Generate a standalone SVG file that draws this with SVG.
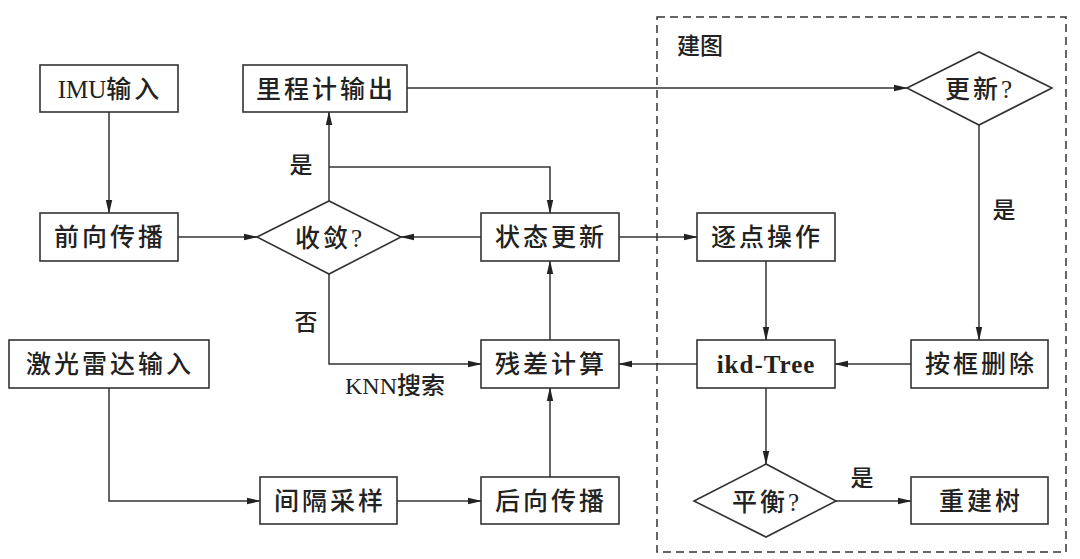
<svg xmlns="http://www.w3.org/2000/svg" width="1080" height="559" viewBox="0 0 1080 559">
<defs>
<marker id="ah" markerWidth="14" markerHeight="8" refX="13" refY="4" orient="auto" markerUnits="userSpaceOnUse">
<path d="M0,0.8 L14,4 L0,7.2 Z" fill="#222"/>
</marker>
<style>
.box{fill:#fff;stroke:#333;stroke-width:1.6}
.t{font-family:"Liberation Serif","Noto Sans CJK SC",serif;font-size:25px;font-weight:500;fill:#222;text-anchor:middle;dominant-baseline:central;letter-spacing:3px}
.l{font-family:"Liberation Serif","Noto Sans CJK SC",serif;font-size:23px;font-weight:500;fill:#222;text-anchor:middle;dominant-baseline:central}
.b{font-weight:bold}
.c{fill:none;stroke:#333;stroke-width:1.5}
.a{marker-end:url(#ah)}
</style>
</defs>
<rect width="1080" height="559" fill="#fff"/>
<g id="mapping-region">
<rect x="657" y="17" width="409" height="535" fill="none" stroke="#333" stroke-width="1.5" stroke-dasharray="8,5"/>
<text class="l" x="700" y="46">建图</text>
</g>
<g id="connectors">
<path class="c a" d="M109,112 V213"/>
<path class="c a" d="M178,237 H257"/>
<path class="c a" d="M329,201 V112"/>
<path class="c a" d="M329,167 H550 V213"/>
<path class="c a" d="M481,237 H401"/>
<path class="c a" d="M329,274 V364 H481"/>
<path class="c a" d="M550,340 V261"/>
<path class="c a" d="M550,477 V388"/>
<path class="c a" d="M109,388 V501 H260"/>
<path class="c a" d="M397,501 H481"/>
<path class="c a" d="M619,237 H697"/>
<path class="c a" d="M766,261 V340"/>
<path class="c a" d="M697,364 H619"/>
<path class="c a" d="M911,364 H835"/>
<path class="c a" d="M407,88 H907"/>
<path class="c a" d="M979,125 V340"/>
<path class="c a" d="M766,388 V464"/>
<path class="c a" d="M836,501 H911"/>
<text class="l" x="301" y="165">是</text>
<text class="l" x="306" y="322">否</text>
<text class="l" x="395" y="386" style="font-size:24px">KNN搜索</text>
<text class="l" x="1004" y="210">是</text>
<text class="l" x="862" y="478">是</text>
</g>
<g id="imu"><rect class="box" x="40" y="65" width="138" height="47"/><text class="t" x="110" y="89"><tspan style="letter-spacing:0">IMU</tspan>输入</text></g>
<g id="odom"><rect class="box" x="243" y="65" width="164" height="47"/><text class="t" x="326" y="89">里程计输出</text></g>
<g id="forward"><rect class="box" x="40" y="213" width="138" height="48"/><text class="t" x="110" y="237">前向传播</text></g>
<g id="converge"><path class="box" d="M257,237 L329,201 L401,237 L329,274 Z"/><text class="t" x="330" y="238">收敛?</text></g>
<g id="state"><rect class="box" x="481" y="213" width="138" height="48"/><text class="t" x="551" y="237">状态更新</text></g>
<g id="pointwise"><rect class="box" x="697" y="213" width="138" height="48"/><text class="t" x="767" y="237">逐点操作</text></g>
<g id="update"><path class="box" d="M907,88 L979,52 L1052,88 L979,125 Z"/><text class="t" x="980" y="89">更新?</text></g>
<g id="lidar"><rect class="box" x="9" y="340" width="200" height="48"/><text class="t" x="110" y="364">激光雷达输入</text></g>
<g id="residual"><rect class="box" x="481" y="340" width="138" height="48"/><text class="t" x="551" y="364">残差计算</text></g>
<g id="ikdtree"><rect class="box" x="697" y="340" width="138" height="48"/><text class="t b" x="766" y="364" style="letter-spacing:1px">ikd-Tree</text></g>
<g id="boxdelete"><rect class="box" x="911" y="340" width="137" height="48"/><text class="t" x="981" y="364">按框删除</text></g>
<g id="downsample"><rect class="box" x="260" y="477" width="137" height="47"/><text class="t" x="330" y="501">间隔采样</text></g>
<g id="backward"><rect class="box" x="481" y="477" width="138" height="47"/><text class="t" x="551" y="501">后向传播</text></g>
<g id="balance"><path class="box" d="M694,501 L766,464 L836,501 L766,537 Z"/><text class="t" x="767" y="502">平衡?</text></g>
<g id="rebuild"><rect class="box" x="911" y="477" width="137" height="47"/><text class="t" x="981" y="501">重建树</text></g>
</svg>
